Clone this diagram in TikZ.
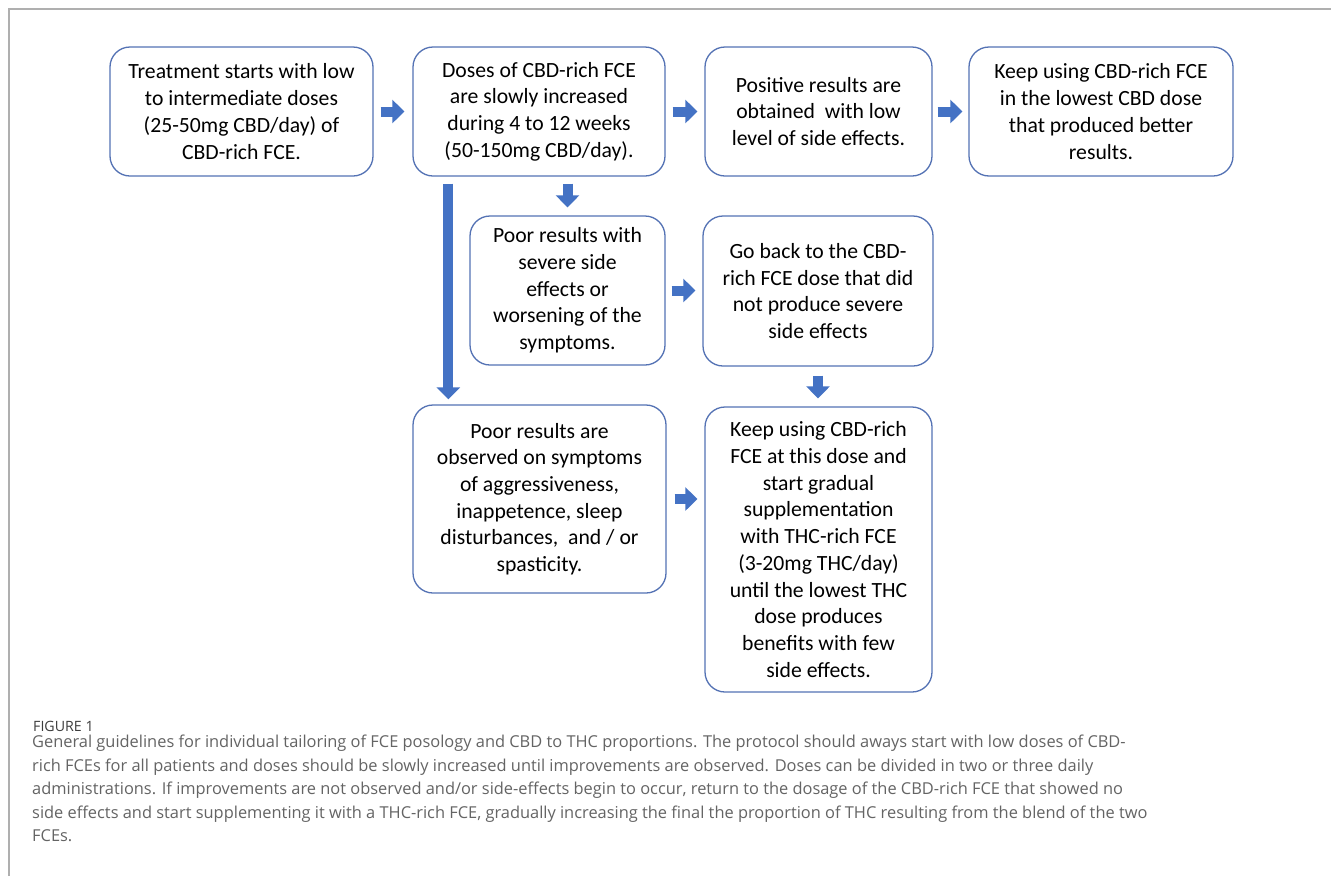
\documentclass[tikz,border=0pt]{standalone}
\usepackage{fontspec}
\setmainfont{Carlito}
\newfontfamily\capfont{Open Sans}
\usetikzlibrary{arrows.meta,calc}
\definecolor{boxblue}{RGB}{84,114,180}
\definecolor{arrblue}{RGB}{68,114,196}
\definecolor{framegray}{RGB}{175,175,175}
\definecolor{capgray}{RGB}{100,100,100}
\definecolor{figgray}{RGB}{60,60,60}
\begin{document}
\begin{tikzpicture}[x=1pt,y=-1pt,
  box/.style={draw=boxblue, line width=1.3pt, rounded corners=20pt, align=center,
    font=\fontsize{21.7}{26.7}\selectfont, inner sep=0pt, text=black},
  barrow/.style={draw=arrblue, line width=10pt, -{Triangle[width=23pt,length=12pt]}},
  capline/.style={anchor=base west, inner sep=0pt, text=capgray,
    font=\capfont\fontsize{16.4}{23.5}\selectfont},
  figlabel/.style={anchor=base west, inner sep=0pt, text=figgray,
    font=\capfont\fontsize{14.2}{16}\selectfont}]
\useasboundingbox (0,0) rectangle (1331,876);
\fill[white] (0,0) rectangle (1331,876);
\draw[framegray, line width=1.2pt] (9,876) -- (9,9) -- (1331,9);

\node[box, minimum width=263pt, minimum height=129pt] (b1) at (241.5,111.5)
  {Treatment starts with low\\to intermediate doses\\(25-50mg CBD/day) of\\CBD-rich FCE.};
\node[box, minimum width=252pt, minimum height=129pt] (b2) at (539,111.5)
  {Doses of CBD-rich FCE\\are slowly increased\\during 4 to 12 weeks\\(50-150mg CBD/day).};
\node[box, minimum width=227pt, minimum height=129pt] (b3) at (818.5,111.5)
  {Positive results are\\obtained\ \ with low\\level of side effects.};
\node[box, minimum width=264pt, minimum height=129pt] (b4) at (1101,111.5)
  {Keep using CBD-rich FCE\\in the lowest CBD dose\\that produced better\\results.};
\node[box, minimum width=195pt, minimum height=149pt] (b5) at (567.5,290.5)
  {Poor results with\\severe side\\effects or\\worsening of the\\symptoms.};
\node[box, minimum width=230pt, minimum height=150pt] (b6) at (818,291)
  {Go back to the CBD-\\rich FCE dose that did\\not produce severe\\side effects};
\node[box, minimum width=253pt, minimum height=188pt] (b7) at (539.5,499)
  {Poor results are\\observed on symptoms\\of aggressiveness,\\inappetence, sleep\\disturbances,\ \ and / or\\spasticity.};
\node[box, minimum width=227pt, minimum height=285pt] (b8) at (818.5,549.5)
  {Keep using CBD-rich\\FCE at this dose and\\start gradual\\supplementation\\with THC-rich FCE\\(3-20mg THC/day)\\until the lowest THC\\dose produces\\benefits with few\\side effects.};

\draw[barrow, shorten <=7pt, shorten >=8pt] (b1.east) -- (b2.west);
\draw[barrow, shorten <=7pt, shorten >=7pt] (b2.east) -- (b3.west);
\draw[barrow, shorten <=5pt, shorten >=6pt] (b3.east) -- (b4.west);
\draw[barrow, shorten <=7pt, shorten >=8pt] (b5.north |- b2.south) -- (b5.north);
\draw[barrow, shorten <=7pt, shorten >=5pt] ($(b2.south west)+(36,0)$) -- ($(b7.north west)+(36,0)$);
\draw[barrow, shorten <=6pt, shorten >=7pt] (b5.east) -- (b5.east -| b6.west);
\draw[barrow, shorten <=9pt, shorten >=8pt] (b6.south) -- (b6.south |- b8.north);
\draw[barrow, shorten <=8pt, shorten >=7pt] (b7.east) -- (b7.east -| b8.west);

\node[figlabel] (fig) at (33,731) {FIGURE 1};
\node[capline] (cap1) at (32,747.5) {General guidelines for individual tailoring of FCE posology and CBD to THC proportions. The protocol should aways start with low doses of CBD-};
\node[capline] (cap2) at (32,771) {rich FCEs for all patients and doses should be slowly increased until improvements are observed. Doses can be divided in two or three daily};
\node[capline] (cap3) at (32,794.5) {administrations. If improvements are not observed and/or side-effects begin to occur, return to the dosage of the CBD-rich FCE that showed no};
\node[capline] (cap4) at (32,818) {side effects and start supplementing it with a THC-rich FCE, gradually increasing the final the proportion of THC resulting from the blend of the two};
\node[capline] (cap5) at (32,841.5) {FCEs.};
\end{tikzpicture}
\end{document}
